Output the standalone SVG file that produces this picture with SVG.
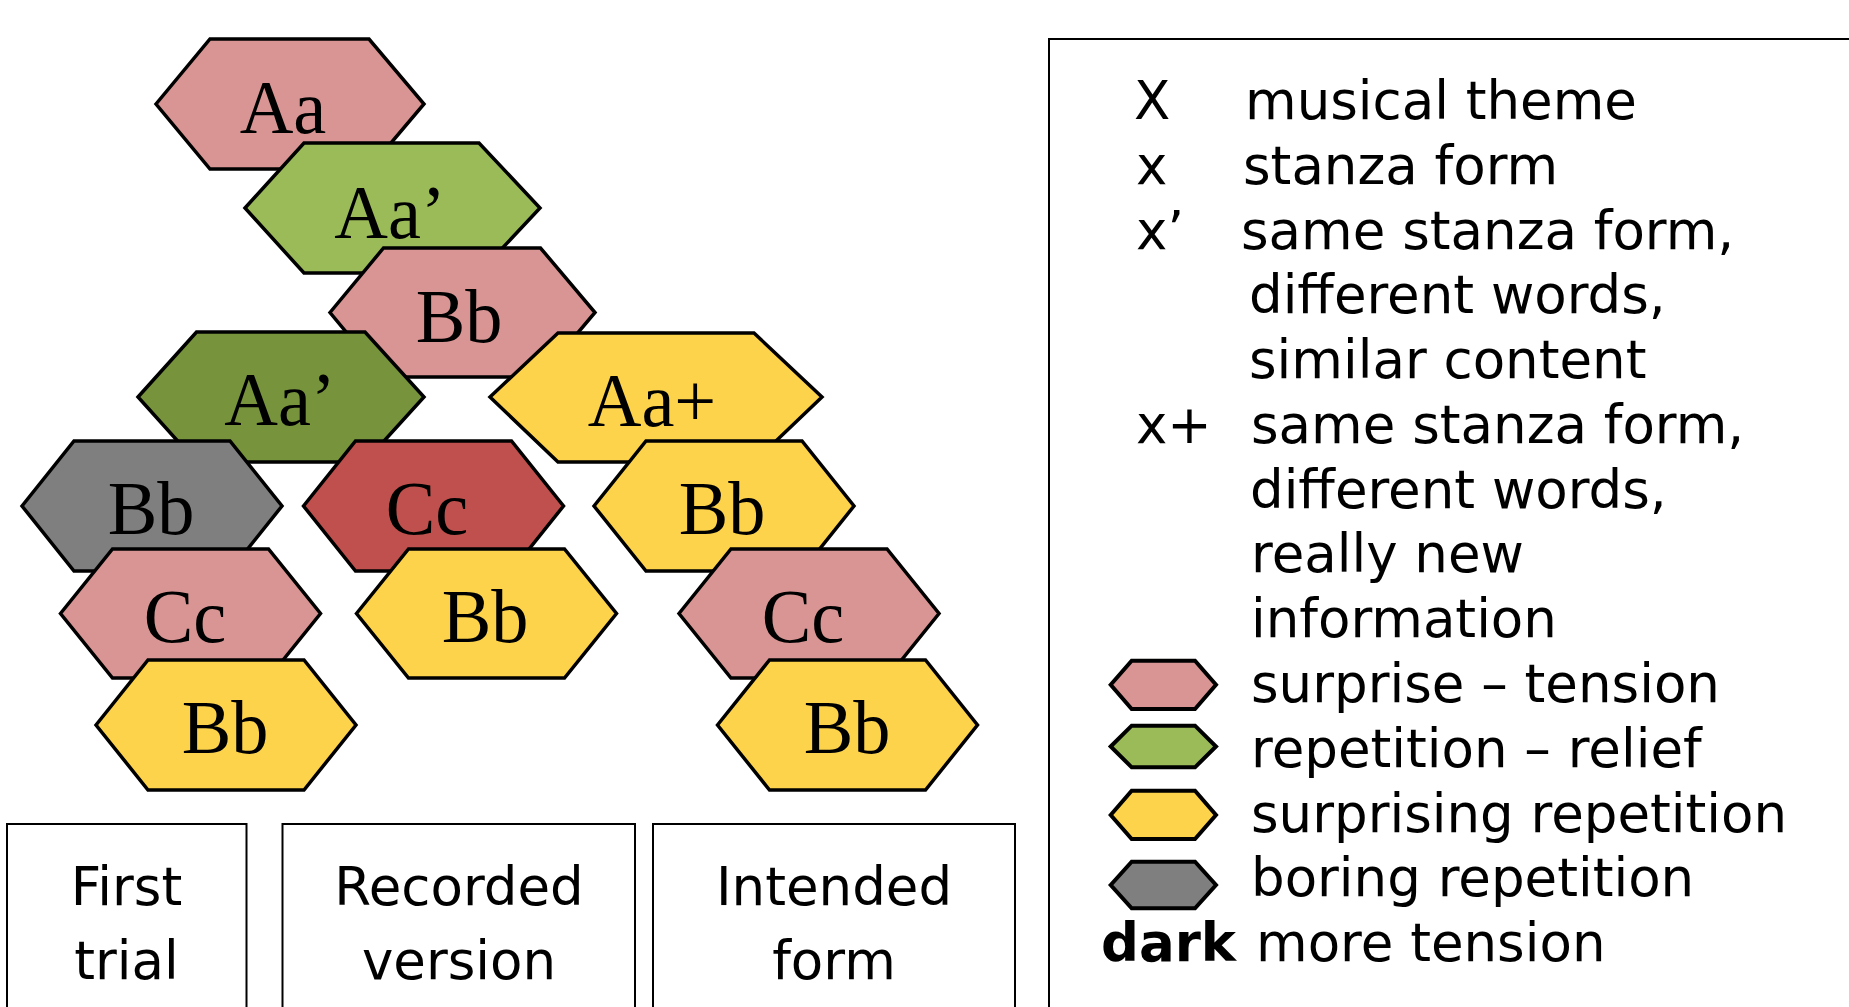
<svg xmlns="http://www.w3.org/2000/svg" width="1849" height="1007" viewBox="0 0 1849 1007">
  <style>
    .hex { stroke: #000; stroke-width: 3.5; stroke-linejoin: miter; }
    .key { stroke: #000; stroke-width: 4; stroke-linejoin: miter; }
    .pink { fill: #D99594; }
    .green { fill: #9BBB59; }
    .dgreen { fill: #77933C; }
    .yellow { fill: #FDD34B; }
    .red { fill: #C0504D; }
    .gray { fill: #7F7F7F; }
    .lbl { font-family: "Liberation Serif", "Times New Roman", serif; font-size: 77px; fill: #000; text-anchor: middle; }
    .sans { font-family: "DejaVu Sans", Verdana, sans-serif; font-size: 53px; fill: #000; }
    .mid { text-anchor: middle; }
    .bold { font-weight: bold; }
    .frame { fill: none; stroke: #000; stroke-width: 2; }
  </style>

  <rect width="1849" height="1007" fill="#fff"/>

  <!-- stanza hexagons, drawn top row first so lower rows overlap -->
  <g id="aa-top">
    <polygon class="hex pink" points="156,104 210,39 369,39 424,104 369,169 210,169"/>
    <text class="lbl" transform="translate(283,133) scale(0.965,1)">Aa</text>
  </g>
  <g id="aa-prime-light">
    <polygon class="hex green" points="245,208 304,143 479,143 540,208 479,273 304,273"/>
    <text class="lbl" transform="translate(390,238) scale(0.965,1)">Aa’</text>
  </g>
  <g id="bb-pink-top">
    <polygon class="hex pink" points="330,312.5 383.5,248 540.5,248 595,312.5 540.5,377 383.5,377"/>
    <text class="lbl" transform="translate(459,342) scale(0.965,1)">Bb</text>
  </g>
  <g id="aa-plus">
    <polygon class="hex yellow" points="490,397 558,333 754,333 822,397 754,462 558,462"/>
    <text class="lbl" transform="translate(652,426) scale(0.965,1)">Aa+</text>
  </g>
  <g id="aa-prime-dark">
    <polygon class="hex dgreen" points="138,397 196.5,332 365,332 424,397 365,462 196.5,462"/>
    <text class="lbl" transform="translate(280,425) scale(0.965,1)">Aa’</text>
  </g>

  <g id="bb-gray">
    <polygon class="hex gray" points="22,506 74,441 230,441 282,506 230,571 74,571"/>
    <text class="lbl" transform="translate(151,534) scale(0.965,1)">Bb</text>
  </g>
  <g id="cc-red">
    <polygon class="hex red" points="303.5,506 355.5,441 511.5,441 563.5,506 511.5,571 355.5,571"/>
    <text class="lbl" transform="translate(427,534) scale(0.965,1)">Cc</text>
  </g>
  <g id="bb-yellow-right">
    <polygon class="hex yellow" points="594,506 646,441 802,441 854,506 802,571 646,571"/>
    <text class="lbl" transform="translate(722,534) scale(0.965,1)">Bb</text>
  </g>

  <g id="cc-pink-left">
    <polygon class="hex pink" points="60.5,613.5 112.5,549 268.5,549 320.5,613.5 268.5,678 112.5,678"/>
    <text class="lbl" transform="translate(185,642) scale(0.965,1)">Cc</text>
  </g>
  <g id="bb-yellow-mid">
    <polygon class="hex yellow" points="356.5,613.5 408.5,549 564.5,549 616.5,613.5 564.5,678 408.5,678"/>
    <text class="lbl" transform="translate(485,642) scale(0.965,1)">Bb</text>
  </g>
  <g id="cc-pink-right">
    <polygon class="hex pink" points="679,613.5 731,549 887,549 939,613.5 887,678 731,678"/>
    <text class="lbl" transform="translate(803,642) scale(0.965,1)">Cc</text>
  </g>

  <g id="bb-yellow-bottom-left">
    <polygon class="hex yellow" points="96,725 148,660 304,660 356,725 304,790 148,790"/>
    <text class="lbl" transform="translate(225,753) scale(0.965,1)">Bb</text>
  </g>
  <g id="bb-yellow-bottom-right">
    <polygon class="hex yellow" points="717.5,725 769.5,660 925.5,660 977.5,725 925.5,790 769.5,790"/>
    <text class="lbl" transform="translate(847,753) scale(0.965,1)">Bb</text>
  </g>

  <!-- column captions -->
  <g id="caption-first">
    <rect class="frame" x="7" y="824" width="239.5" height="200"/>
    <text class="sans mid" x="126.5" y="905">First</text>
    <text class="sans mid" x="126.5" y="979">trial</text>
  </g>
  <g id="caption-recorded">
    <rect class="frame" x="282.5" y="824" width="352.5" height="200"/>
    <text class="sans mid" x="459" y="905">Recorded</text>
    <text class="sans mid" x="459" y="979">version</text>
  </g>
  <g id="caption-intended">
    <rect class="frame" x="653" y="824" width="362" height="200"/>
    <text class="sans mid" x="834" y="905">Intended</text>
    <text class="sans mid" x="834" y="979">form</text>
  </g>

  <!-- legend panel -->
  <g id="legend">
    <rect class="frame" x="1049" y="39" width="820" height="1000"/>
    <text class="sans" x="1134" y="119">X</text>
    <text class="sans" x="1245" y="119">musical theme</text>
    <text class="sans" x="1136" y="184">x</text>
    <text class="sans" x="1243" y="184">stanza form</text>
    <text class="sans" x="1136" y="248.5">x’</text>
    <text class="sans" x="1241" y="248.5">same stanza form,</text>
    <text class="sans" x="1249" y="313">different words,</text>
    <text class="sans" x="1249" y="378">similar content</text>
    <text class="sans" x="1136" y="443">x+</text>
    <text class="sans" x="1251" y="443">same stanza form,</text>
    <text class="sans" x="1250" y="507.5">different words,</text>
    <text class="sans" x="1251" y="572">really new</text>
    <text class="sans" x="1251" y="637">information</text>

    <polygon class="key pink" points="1110.7,684.8 1131.7,660.7 1195,660.7 1216,684.8 1195,709 1131.7,709"/>
    <text class="sans" x="1251" y="702">surprise – tension</text>
    <polygon class="key green" points="1110.7,746.5 1131.7,725.7 1195,725.7 1216,746.5 1195,767.3 1131.7,767.3"/>
    <text class="sans" x="1251" y="767">repetition – relief</text>
    <polygon class="key yellow" points="1110.7,815 1131.7,790.7 1195,790.7 1216,815 1195,839 1131.7,839"/>
    <text class="sans" x="1251" y="831.5">surprising repetition</text>
    <polygon class="key gray" points="1110.7,885 1131.7,861.7 1195,861.7 1216,885 1195,908.3 1131.7,908.3"/>
    <text class="sans" x="1251" y="896">boring repetition</text>
    <text class="sans bold" x="1101" y="961">dark</text>
    <text class="sans" x="1256" y="961">more tension</text>
  </g>
</svg>
